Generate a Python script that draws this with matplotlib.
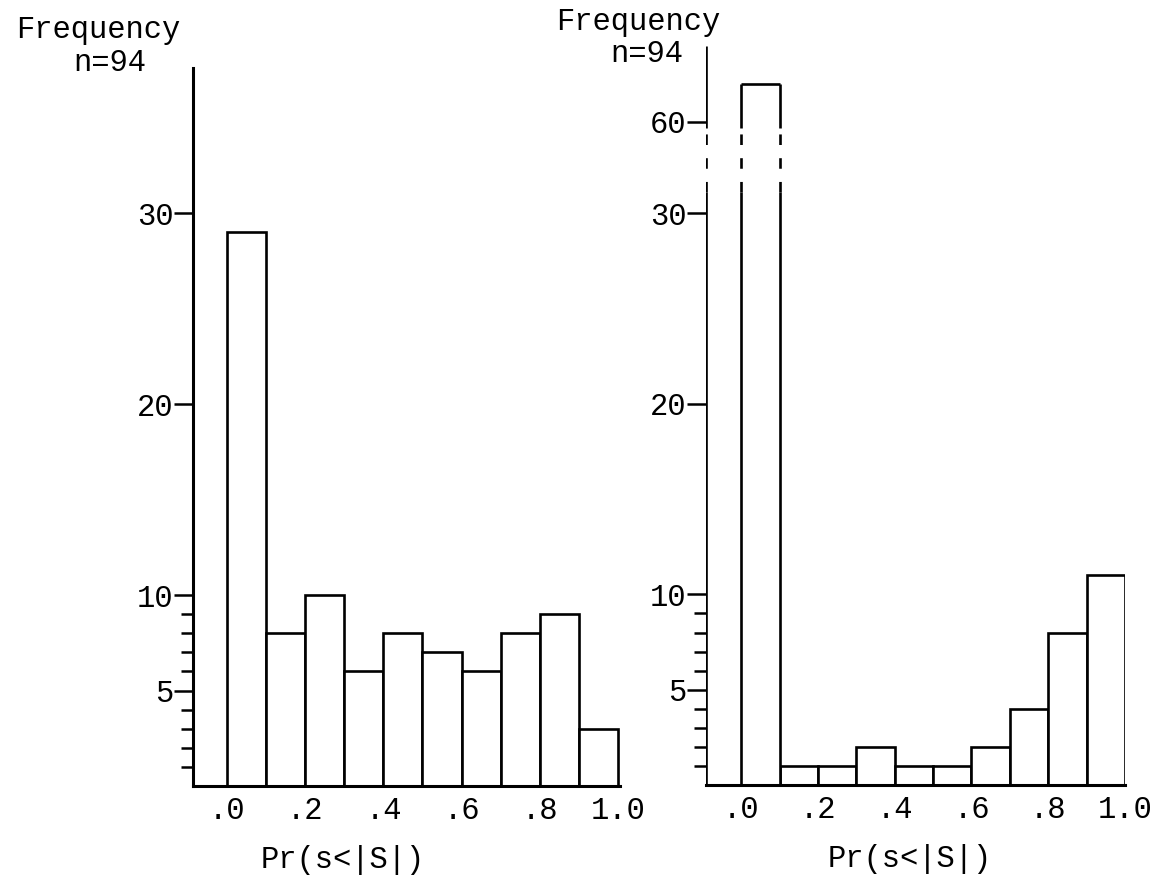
import numpy as np
import matplotlib
matplotlib.use("Agg")
from matplotlib import pyplot as plt

plt.rcParams['font.family'] = ['Liberation Mono', 'DejaVu Sans Mono']

# histogram bins 0.0-1.0 in steps of .1
bin_edges = [0.0, 0.1, 0.2, 0.3, 0.4, 0.5, 0.6, 0.7, 0.8, 0.9, 1.0]
left_counts = [29, 8, 10, 6, 8, 7, 6, 8, 9, 3]
right_counts = [63, 1, 1, 2, 1, 1, 2, 4, 8, 11]
xtick_vals = [0.0, 0.2, 0.4, 0.6, 0.8, 1.0]
xtick_labels = ['.0', '.2', '.4', '.6', '.8', '1.0']
left_yticks = [5, 10, 20, 30]
right_yticks = [5, 10, 20, 30, 60]
minor_yticks = [1, 2, 3, 4, 6, 7, 8, 9]

FS = 22
LW = 1.9

fig = plt.figure(figsize=(11.61, 8.81), dpi=100)

edges = np.array(bin_edges)
width = np.diff(edges)


def style_axis(ax):
    ax.spines['top'].set_visible(False)
    ax.spines['right'].set_visible(False)
    ax.spines['left'].set_linewidth(2.2)
    ax.spines['bottom'].set_linewidth(2.2)
    ax.tick_params(axis='y', which='major', length=14, width=1.8, pad=0, labelsize=FS)
    ax.tick_params(axis='y', which='minor', length=9, width=1.8)
    ax.tick_params(axis='x', length=0, pad=7, labelsize=FS)
    ax.set_xticks(xtick_vals)
    ax.set_xticklabels(xtick_labels)


# ---- left histogram
ax1 = fig.add_axes([0.1662, 0.1078, 0.3678, 0.815])
ax1.bar(edges[:-1], left_counts, width=width, align='edge',
        facecolor='white', edgecolor='black', linewidth=LW)
ax1.set_xlim(-0.087, 1.005)
ax1.set_ylim(0, 37.6)
ax1.set_yticks(left_yticks)
ax1.set_yticks(minor_yticks, minor=True)
style_axis(ax1)
ax1.set_xlabel('Pr(s<|S|)', fontsize=FS)
ax1.xaxis.set_label_coords(0.351, -0.082)

# ---- right histogram with broken y axis
b1, b2 = 31.1, 59.5      # start / end of the break
s1, s2 = 19.07, 12.67    # px per unit below / above break
gap = 64.0               # px used by the break
g = gap / (b2 - b1)


def fwd(y):
    y = np.asarray(y, float)
    return np.where(y <= b1, y * s1,
                    np.where(y <= b2, b1 * s1 + (y - b1) * g,
                             b1 * s1 + gap + (y - b2) * s2))


def inv(v):
    v = np.asarray(v, float)
    return np.where(v <= b1 * s1, v / s1,
                    np.where(v <= b1 * s1 + gap, b1 + (v - b1 * s1) / g,
                             b2 + (v - b1 * s1 - gap) / s2))


ax2 = fig.add_axes([0.6081, 0.109, 0.3609, 0.8388])
ax2.set_yscale('function', functions=(fwd, inv))
ax2.set_xlim(-0.0916, 1.0)
ax2.set_ylim(0, 66.0)
ax2.bar(edges[1:-1], right_counts[1:], width=width[1:], align='edge',
        facecolor='white', edgecolor='black', linewidth=LW)
# tall first bar: drawn as outline so its sides can be broken
ax2.bar(edges[0], right_counts[0], width=width[0], align='edge',
        facecolor='white', edgecolor='none')
x0 = ax2.get_xlim()[0]
sides = [x0, edges[0], edges[1]]
ax2.vlines(sides, 0, b1, colors='black', linewidth=LW)
ax2.vlines(sides, b2, [ax2.get_ylim()[1], right_counts[0], right_counts[0]],
           colors='black', linewidth=LW)
ax2.vlines(sides, b1, b2, colors='black', linewidth=LW, linestyles=(0, (4, 5)))
ax2.hlines(right_counts[0], edges[0], edges[1], colors='black', linewidth=LW)
ax2.set_yticks(right_yticks)
ax2.set_yticks(minor_yticks, minor=True)
style_axis(ax2)
ax2.spines['left'].set_visible(False)
ax2.set_xlabel('Pr(s<|S|)', fontsize=FS)
ax2.xaxis.set_label_coords(0.487, -0.08)

# header text
fig.text(0.0844, 0.966, 'Frequency', fontsize=FS, ha='center', va='center')
fig.text(0.0947, 0.928, 'n=94', fontsize=FS, ha='center', va='center')
fig.text(0.5497, 0.975, 'Frequency', fontsize=FS, ha='center', va='center')
fig.text(0.557, 0.939, 'n=94', fontsize=FS, ha='center', va='center')

fig.savefig('out.png', dpi=100)
